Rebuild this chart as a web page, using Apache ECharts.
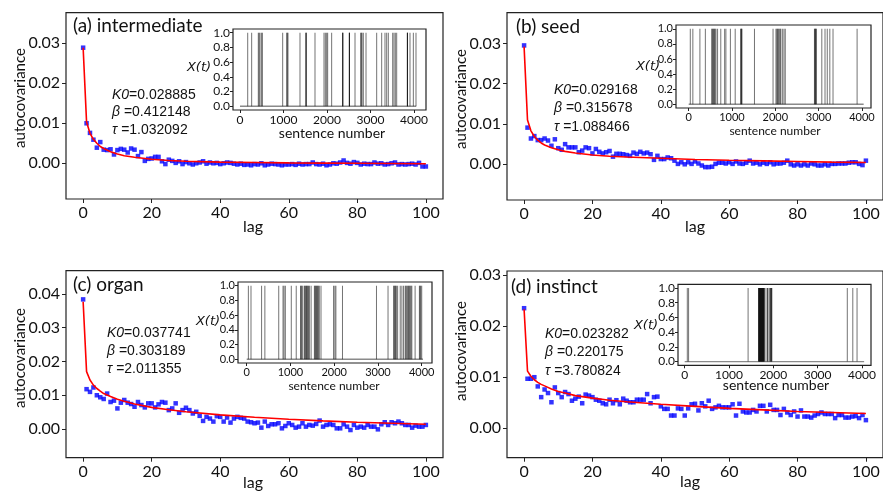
<!DOCTYPE html>
<html><head><meta charset="utf-8">
<script src="https://cdn.jsdelivr.net/npm/echarts@6/dist/echarts.min.js"></script>
<style>html,body{margin:0;padding:0;background:#fff}#c{width:883px;height:491px}</style>
</head><body><div id="c"></div>
<script>
// ---------------- data ----------------
const lags = Array.from({length: 101}, (_, i) => i);
const mainXTicks = [0, 20, 40, 60, 80, 100];
const insetXTicks = [0, 1000, 2000, 3000, 4000];
const insetYTicks = [0, 0.2, 0.4, 0.6, 0.8, 1.0];

const titles = ['(a) intermediate', '(b) seed', '(c) organ', '(d) instinct'];
const K0s = ['0.028885', '0.029168', '0.037741', '0.023282'];
const betas = ['0.412148', '0.315678', '0.303189', '0.220175'];
const taus = ['1.032092', '1.088466', '2.011355', '3.780824'];

const acvA = [0.0289,0.0100,0.0076,0.0059,0.0039,0.0053,0.0034,0.0033,0.0035,0.0022,
0.0033,0.0036,0.0034,0.0027,0.0037,0.0034,0.0018,0.0028,0.0006,0.0011,
0.0012,0.0016,0.0016,0.0005,-0.0002,0.0009,0.0006,0.0001,0.0005,-0.0002,
0.0003,0.0000,-0.0003,0.0000,0.0002,0.0005,-0.0001,0.0002,0.0000,0.0001,
-0.0002,0.0000,0.0002,0.0001,-0.0001,-0.0003,-0.0001,-0.0004,-0.0003,-0.0005,
-0.0002,-0.0003,0.0000,-0.0005,-0.0003,-0.0001,-0.0002,-0.0003,-0.0005,-0.0003,
-0.0003,-0.0002,-0.0004,-0.0001,-0.0003,-0.0002,-0.0002,0.0002,-0.0002,-0.0003,
-0.0001,-0.0005,-0.0003,0.0000,-0.0001,0.0002,0.0007,0.0001,-0.0001,0.0003,
0.0001,-0.0003,-0.0001,-0.0002,-0.0002,0.0002,-0.0001,0.0000,-0.0003,-0.0002,
0.0000,0.0002,-0.0003,-0.0002,-0.0003,-0.0002,-0.0001,-0.0003,0.0001,-0.0008,
-0.0008];
const acvB = [0.0295,0.0091,0.0064,0.0070,0.0060,0.0060,0.0064,0.0059,0.0046,0.0062,
0.0040,0.0036,0.0050,0.0042,0.0042,0.0042,0.0030,0.0034,0.0042,0.0040,
0.0027,0.0038,0.0031,0.0027,0.0030,0.0033,0.0019,0.0026,0.0026,0.0025,
0.0023,0.0021,0.0029,0.0026,0.0031,0.0027,0.0029,0.0025,0.0011,0.0021,
0.0013,0.0013,0.0017,0.0015,0.0009,0.0001,0.0005,0.0000,0.0005,0.0001,
0.0007,0.0002,-0.0003,-0.0007,-0.0007,-0.0006,0.0001,0.0004,0.0004,0.0002,
0.0005,0.0001,0.0007,0.0002,0.0001,0.0004,0.0009,0.0002,0.0004,0.0000,
0.0004,0.0001,0.0005,0.0000,0.0002,0.0002,0.0004,0.0009,0.0000,-0.0003,
0.0000,-0.0003,0.0000,-0.0003,0.0002,0.0000,-0.0003,-0.0003,0.0000,-0.0003,
0.0001,0.0001,0.0002,0.0002,0.0002,0.0004,0.0005,0.0005,0.0001,-0.0002,
0.0009];
const acvC = [0.0384,0.0118,0.0110,0.0123,0.0100,0.0094,0.0089,0.0105,0.0080,0.0084,
0.0061,0.0078,0.0086,0.0078,0.0074,0.0066,0.0080,0.0071,0.0064,0.0076,
0.0076,0.0064,0.0073,0.0080,0.0078,0.0056,0.0061,0.0076,0.0048,0.0056,
0.0063,0.0056,0.0046,0.0051,0.0039,0.0024,0.0036,0.0031,0.0022,0.0038,
0.0036,0.0022,0.0034,0.0019,0.0031,0.0036,0.0033,0.0031,0.0022,0.0020,
0.0017,0.0019,0.0004,0.0022,0.0009,0.0014,0.0014,0.0017,0.0002,0.0009,
0.0017,0.0012,0.0004,0.0007,0.0017,0.0007,0.0012,0.0010,0.0015,0.0025,
0.0007,0.0012,0.0014,0.0012,0.0002,0.0002,0.0014,0.0007,-0.0003,0.0012,
0.0004,0.0007,0.0004,0.0012,0.0007,0.0007,-0.0001,0.0014,0.0020,0.0012,
0.0020,0.0017,0.0022,0.0017,0.0012,0.0012,0.0004,0.0010,0.0007,0.0007,
0.0012];
const acvD = [0.0235,0.0097,0.0097,0.0100,0.0082,0.0061,0.0076,0.0069,0.0051,0.0080,
0.0069,0.0061,0.0071,0.0067,0.0054,0.0058,0.0062,0.0049,0.0066,0.0064,
0.0061,0.0056,0.0054,0.0049,0.0047,0.0056,0.0049,0.0055,0.0047,0.0058,
0.0054,0.0051,0.0051,0.0056,0.0056,0.0056,0.0067,0.0049,0.0061,0.0062,
0.0043,0.0038,0.0038,0.0025,0.0025,0.0039,0.0038,0.0025,0.0039,0.0047,
0.0048,0.0035,0.0049,0.0043,0.0054,0.0038,0.0041,0.0044,0.0041,0.0041,
0.0041,0.0047,0.0025,0.0048,0.0033,0.0031,0.0031,0.0036,0.0033,0.0044,
0.0044,0.0033,0.0046,0.0036,0.0036,0.0026,0.0038,0.0031,0.0026,0.0033,
0.0023,0.0035,0.0023,0.0023,0.0021,0.0025,0.0028,0.0031,0.0028,0.0028,
0.0028,0.0020,0.0026,0.0026,0.0021,0.0021,0.0023,0.0024,0.0020,0.0026,
0.0016];

const fitLags = [0,1,2,3,4,5,6,8,10,12,15,20,25,30,40,50,60,70,80,90,100];
const fitA = [0.0289,0.0103,0.0075,0.0060,0.0050,0.0042,0.0037,0.0029,0.0023,0.0019,0.0015,0.0010,0.0007,0.0005,0.0003,0.0002,0.0001,0.00005,0.0000,-0.00005,-0.0001];
const fitB = [0.0292,0.0110,0.0083,0.0069,0.0060,0.0053,0.0048,0.0041,0.0036,0.0032,0.0028,0.0023,0.0020,0.0018,0.0015,0.0012,0.0010,0.00085,0.0007,0.00055,0.00045];
const fitC = [0.0377,0.0170,0.0145,0.0130,0.0120,0.0112,0.0105,0.0096,0.0088,0.0082,0.0074,0.0064,0.0057,0.0051,0.0042,0.0035,0.0029,0.0024,0.0020,0.0017,0.0014];
const fitD = [0.0233,0.0112,0.0102,0.0095,0.0090,0.0086,0.0083,0.0077,0.0072,0.0069,0.0064,0.0059,0.0055,0.0052,0.0047,0.0043,0.0039,0.0036,0.0033,0.0031,0.0029];

const sentencesA = 4050, sentencesB = 4040, sentencesC = 4030, sentencesD = 4050;
const eventsA = [177,268,421,440,460,498,513,981,1073,1088,1103,1379,1517,1519,1521,1724,1931,1962,1992,2015,2107,2360,2362,2364,2513,2515,2517,2644,2774,2790,2805,2835,2897,3142,3257,3333,3372,3410,3510,3540,3571,3602,3847,3849,3851,3908,3985,4046];
const eventsB = [37,96,259,385,533,545,563,578,593,610,630,667,741,830,859,963,1074,1200,1210,1220,1230,1519,1948,2015,2035,2052,2070,2089,2110,2126,2163,2200,2230,2904,2915,2926,2937,2948,3074,3148,3200,3259,3333,3889];
const eventsC = [38,98,340,415,732,830,853,883,1019,1132,1230,1245,1260,1283,1321,1336,1351,1366,1381,1396,1411,1434,1472,1547,1562,1577,1592,1608,1623,1638,1660,1698,1985,2015,2038,2189,2966,3230,3358,3373,3389,3404,3419,3449,3509,3547,3585,3623,3640,3660,3680,3698,3718,3736,3755,3774,3849,3947,3962,3977,4000];
const eventsD = [59,88,1431,1666,1672,1678,1684,1690,1696,1702,1708,1714,1720,1726,1732,1738,1744,1750,1756,1762,1768,1774,1780,1786,1792,1798,1835,1872,1874,1908,1930,1940,1950,1960,1967,3670,3794,3890];

const acvs = [acvA, acvB, acvC, acvD];
const fits = [fitA, fitB, fitC, fitD];
const eventsAll = [eventsA, eventsB, eventsC, eventsD];
const sentences = [sentencesA, sentencesB, sentencesC, sentencesD];

// ---------------- layout (pixels) ----------------
const layout = [
 {grid:{left:66,top:12.7,width:377,height:186.3}, y:[-0.00893,0.03765], yt:[0,0.01,0.02,0.03],
  title:[73,26], par:[112,95,17.5], yl:[20,98], xl:[253,227],
  inset:{left:233,top:29,width:193,height:81}, ix:[-161,4276], xt:[199,68], sn:[332,133,14], fs:12},
 {grid:{left:507,top:12.7,width:376,height:187.3}, y:[-0.00886,0.03762], yt:[0,0.01,0.02,0.03],
  title:[516,26.7], par:[554,90,18.5], yl:[461,99], xl:[695,227],
  inset:{left:676,top:25,width:195,height:83}, ix:[-293,4210], xt:[648,67], sn:[775,131,12], fs:11},
 {grid:{left:66,top:270.7,width:377,height:187}, y:[-0.0085,0.0469], yt:[0,0.01,0.02,0.03,0.04],
  title:[73,285], par:[107,333,18], yl:[20,358], xl:[253,483],
  inset:{left:238,top:282,width:194,height:81}, ix:[-199,4235], xt:[208,322], sn:[334,386,12], fs:11},
 {grid:{left:507,top:271,width:376,height:186.7}, y:[-0.00575,0.03078], yt:[0,0.01,0.02,0.03],
  title:[511,287], par:[545,334,18.5], yl:[461,351], xl:[690,482],
  inset:{left:678,top:284.3,width:193,height:81}, ix:[-151,4205], xt:[646,326], sn:[776,385,14], fs:12}
];

const MAINFONT = 'Lato';
const grids = [], xAxes = [], yAxes = [], series = [], graphics = [];
const axisCol = '#222';

layout.forEach((L, p) => {
  const gi = grids.length;
  grids.push(Object.assign({show:true, borderColor:axisCol, borderWidth:1.2, backgroundColor:'transparent'}, L.grid));
  xAxes.push({gridIndex:gi, type:'value', position:'bottom', min:-5, max:105, splitLine:{show:false},
    axisLine:{show:false, onZero:false}, axisTick:{show:true, length:4, lineStyle:{color:axisCol}, customValues:mainXTicks},
    axisLabel:{customValues:mainXTicks, formatter:v=>String(v), color:'#111', fontFamily:MAINFONT, fontSize:16, margin:6}});
  yAxes.push({gridIndex:gi, type:'value', position:'left', min:L.y[0], max:L.y[1], splitLine:{show:false},
    axisLine:{show:false, onZero:false}, axisTick:{show:true, length:4, lineStyle:{color:axisCol}, customValues:L.yt},
    axisLabel:{customValues:L.yt, formatter:v=>v.toFixed(2), color:'#111', fontFamily:MAINFONT, fontSize:16, margin:6}});
  series.push({type:'scatter', xAxisIndex:gi, yAxisIndex:gi, symbol:'rect', symbolSize:4.5,
    itemStyle:{color:'#0000ff'}, data: lags.map((l,i)=>[l, acvs[p][i]]), z:2, silent:true});
  series.push({type:'line', xAxisIndex:gi, yAxisIndex:gi, showSymbol:false, symbol:'none',
    lineStyle:{color:'#ff0000', width:1.6}, data: fitLags.map((l,i)=>[l, fits[p][i]]), z:3, silent:true});

  // inset
  const ii = grids.length;
  grids.push(Object.assign({show:true, borderColor:axisCol, borderWidth:1.2, backgroundColor:'#fff', z:5}, L.inset));
  xAxes.push({gridIndex:ii, type:'value', position:'bottom', min:L.ix[0], max:L.ix[1], splitLine:{show:false}, z:5,
    axisLine:{show:false, onZero:false}, axisTick:{show:true, length:3, lineStyle:{color:axisCol}, customValues:insetXTicks},
    axisLabel:{customValues:insetXTicks, formatter:v=>String(v), color:'#111', fontFamily:MAINFONT, fontSize:L.fs, margin:4}});
  yAxes.push({gridIndex:ii, type:'value', position:'left', min:-0.05, max:1.05, splitLine:{show:false}, z:5,
    axisLine:{show:false, onZero:false}, axisTick:{show:true, length:3, lineStyle:{color:axisCol}, customValues:insetYTicks},
    axisLabel:{customValues:insetYTicks, formatter:v=>v.toFixed(1), color:'#111', fontFamily:MAINFONT, fontSize:L.fs, margin:3}});
  series.push({type:'line', xAxisIndex:ii, yAxisIndex:ii, symbol:'none', z:6, silent:true,
    lineStyle:{color:'#8a8a8a', width:1.4}, data:[[0,0],[sentences[p],0]]});
  series.push({type:'bar', xAxisIndex:ii, yAxisIndex:ii, barWidth:1, z:7, silent:true,
    itemStyle:{color:'rgba(0,0,0,0.55)'}, data: eventsAll[p].map(e=>[e,1])});

  // texts
  graphics.push({type:'text', x:L.title[0], y:L.title[1], z:10, style:{text:titles[p], fill:'#111',
    font:`19px ${MAINFONT}`, textAlign:'left', textVerticalAlign:'middle'}});
  const pf = '14px "Liberation Sans"';
  const pfi = 'italic 14px "Liberation Sans"';
  const lines = [
    {rich:[['K0',pfi],['='+K0s[p],pf]]},
    {rich:[['β',pfi],[' ='+betas[p],pf]]},
    {rich:[['τ',pfi],[' ='+taus[p],pf]]}
  ];
  lines.forEach((ln, k) => {
    graphics.push({type:'text', x:L.par[0], y:L.par[1]+k*L.par[2], z:10, style:{
      text: ln.rich.map((r,j)=>`{s${j}|${r[0]}}`).join(''),
      rich: Object.fromEntries(ln.rich.map((r,j)=>[`s${j}`, {font:r[1], fill:'#111'}])),
      textAlign:'left', textVerticalAlign:'middle'}});
  });
  graphics.push({type:'text', x:L.yl[0], y:L.yl[1], rotation:Math.PI/2, z:10, style:{text:'autocovariance', fill:'#111',
    font:`15px ${MAINFONT}`, textAlign:'center', textVerticalAlign:'middle'}});
  graphics.push({type:'text', x:L.xl[0], y:L.xl[1], z:10, style:{text:'lag', fill:'#111',
    font:`16px ${MAINFONT}`, textAlign:'center', textVerticalAlign:'middle'}});
  graphics.push({type:'text', x:L.xt[0], y:L.xt[1], z:10, style:{text:'X(t)', fill:'#111',
    font:'italic 13px "DejaVu Sans"', textAlign:'center', textVerticalAlign:'middle'}});
  graphics.push({type:'text', x:L.sn[0], y:L.sn[1], z:10, style:{text:'sentence number', fill:'#111',
    font:`${L.sn[2]}px ${MAINFONT}`, textAlign:'center', textVerticalAlign:'middle'}});
});

const chart = echarts.init(document.getElementById('c'), null, {renderer:'canvas'});
chart.setOption({animation:false, backgroundColor:'#fff', grid:grids, xAxis:xAxes, yAxis:yAxes, series:series, graphic:graphics});
</script></body></html>
